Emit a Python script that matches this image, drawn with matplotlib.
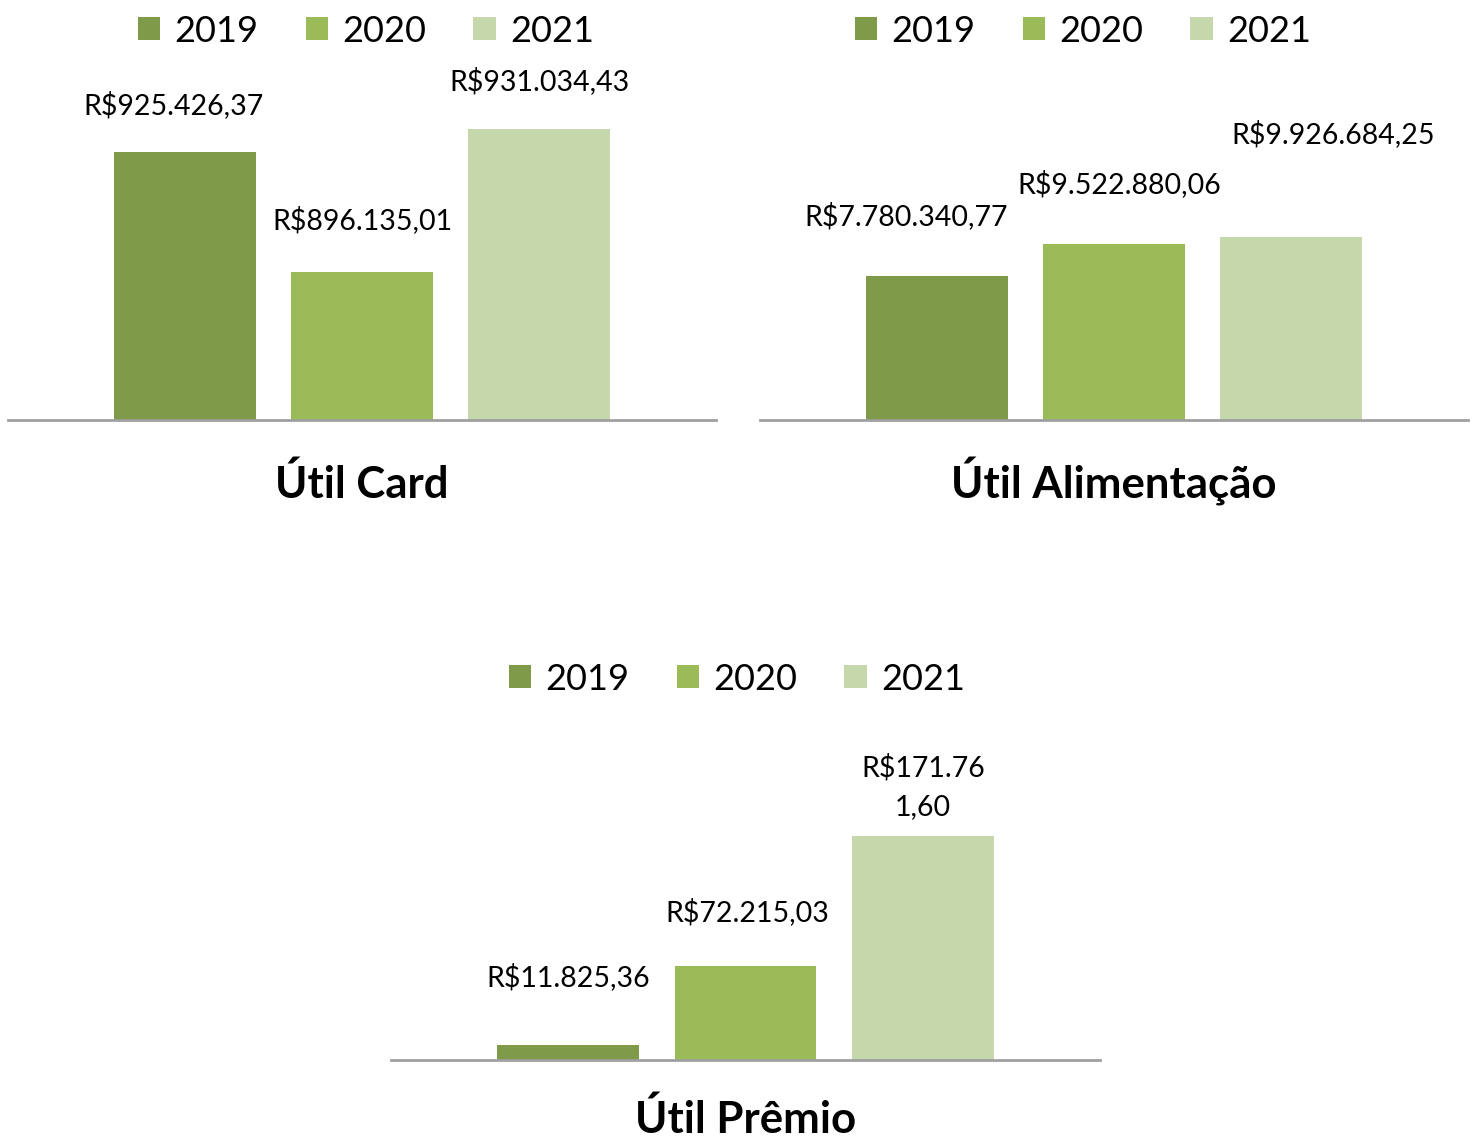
import numpy as np
import matplotlib.pyplot as plt

plt.rcParams['font.family'] = ['Lato', 'DejaVu Sans']

# data
years = ['2019', '2020', '2021']
card = [925426.37, 896135.01, 931034.43]
alim = [7780340.77, 9522880.06, 9926684.25]
premio = [11825.36, 72215.03, 171761.60]
card_lbl = ['R$925.426,37', 'R$896.135,01', 'R$931.034,43']
alim_lbl = ['R$7.780.340,77', 'R$9.522.880,06', 'R$9.926.684,25']
premio_lbl = ['R$11.825,36', 'R$72.215,03', 'R$171.76\n1,60']

colors = ['#7F9A48', '#9BBB59', '#C7D7AC']
W, H = 1476, 1140

fig = plt.figure(figsize=(W / 100, H / 100), dpi=100)


def px_axes(x0, x1, ytop, ybase):
    return fig.add_axes([x0 / W, 1 - ybase / H, (x1 - x0) / W, (ybase - ytop) / H])


def panel(ax, vals, labels, ylim, offsets, title, title_y, legend_x, legend_y):
    x = np.arange(len(vals))
    bars = ax.bar(x, vals, width=0.8, color=colors, label=years)
    ax.set_xlim(-1, 3)
    ax.set_ylim(*ylim)
    for s in ['top', 'left', 'right']:
        ax.spines[s].set_visible(False)
    ax.spines['bottom'].set_color('#A0A0A0')
    ax.spines['bottom'].set_linewidth(2)
    ax.set_xticks([])
    ax.set_yticks([])
    for xi, v, lab, (dx, dy) in zip(x, vals, labels, offsets):
        ax.annotate(lab, (xi, v), xytext=(dx, dy), textcoords='offset pixels',
                    ha='center', va='center', fontsize=20.5, linespacing=1.6)
    cx = (ax.get_position().x0 + ax.get_position().x1) / 2
    fig.text(cx, 1 - title_y / H, title, ha='center', va='baseline',
             fontsize=31.5, fontweight='bold')
    fig.legend(bars, years, loc='center', bbox_to_anchor=(legend_x / W, 1 - legend_y / H),
               ncol=3, frameon=False, fontsize=26, handlelength=0.62, handleheight=0.62,
               handletextpad=0.4, columnspacing=1.3)


ax1 = px_axes(8, 716, 60, 420)
panel(ax1, card, card_lbl, (860000, 948000),
      [(-11, 47), (0, 52), (0, 48)], 'Útil Card', 498, 366, 31)

ax2 = px_axes(760, 1468, 60, 420)
panel(ax2, alim, alim_lbl, (0, 19476000),
      [(-31, 60), (5, 60), (42, 102)], 'Útil Alimentação', 498, 1083, 31)

ax3 = px_axes(391, 1100, 760, 1060)
panel(ax3, premio, premio_lbl, (0, 230400),
      [(0, 68), (2, 54), (0, 49)], 'Útil Prêmio', 1133, 737, 679)

fig.savefig('out.png', dpi=100)
